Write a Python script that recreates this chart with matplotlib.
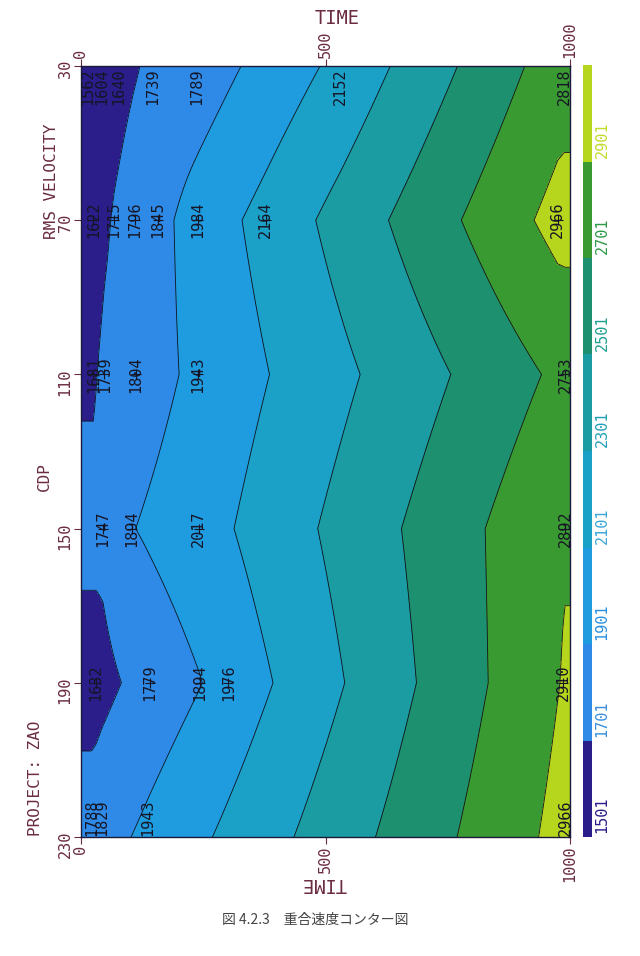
import numpy as np
import matplotlib
matplotlib.use("Agg")
import matplotlib.pyplot as plt
from matplotlib.transforms import blended_transform_factory

# ---------------- data ----------------
cdp = [30, 70, 110, 150, 190, 230]

pick_times = [
    [14, 43, 78, 147, 237, 530, 988],
    [25, 67, 110, 157, 239, 378, 975],
    [25, 48, 112, 239, 990],
    [45, 104, 241, 990],
    [31, 141, 243, 301, 986],
    [22, 43, 137, 990],
]
pick_vels = [
    [1562, 1604, 1640, 1739, 1789, 2152, 2818],
    [1622, 1715, 1796, 1845, 1984, 2164, 2966],
    [1681, 1739, 1804, 1943, 2753],
    [1747, 1894, 2017, 2892],
    [1632, 1779, 1894, 1976, 2910],
    [1788, 1829, 1943, 2966],
]

levels = [1501, 1701, 1901, 2101, 2301, 2501, 2701, 2901, 3101]
level_labels = ["1501", "1701", "1901", "2101", "2301", "2501", "2701", "2901"]
band_colors = ["#2b1d8a", "#2e8ae6", "#1f9be0", "#1ba1c8", "#1b9ca2",
               "#1d9070", "#3a9a32", "#b6d61e"]
label_colors = ["#2b1d8a", "#3a8fdc", "#2a8fe0", "#3aa6d6", "#22a0b8",
                "#1fa090", "#2f9a48", "#c4dc30"]

time_ticks = [0, 500, 1000]

# ---------------- figure ----------------
W, H = 640, 956
plt.rcParams["font.family"] = ["DejaVu Sans Mono"]
fig = plt.figure(figsize=(W / 100, H / 100), dpi=100)
fig.patch.set_facecolor("white")

def fx(px):
    return px / W

def fy(py):
    return 1 - py / H

maroon = "#6a2c40"

ax = fig.add_axes([fx(81), fy(837), 489 / W, 771 / H])

time_grid = np.linspace(0, 1000, 401)
V = np.array([np.interp(time_grid, t, v) for t, v in zip(pick_times, pick_vels)])

ax.contourf(time_grid, cdp, V, levels=levels, colors=band_colors)
ax.contour(time_grid, cdp, V, levels=levels[1:-1], colors="#101020",
           linewidths=0.6)

ax.set_xlim(0, 1000)
ax.set_ylim(230, 30)

# pick labels
for c, ts, vs in zip(cdp, pick_times, pick_vels):
    for t, v in zip(ts, vs):
        if c == cdp[0]:
            ha, yy = "right", c + 0.6
        elif c == cdp[-1]:
            ha, yy = "left", c - 0.3
        else:
            ha, yy = "center", c
        ax.text(t, yy, str(v), rotation=90, rotation_mode="anchor",
                ha=ha, va="center", fontsize=11, color="#151525")
    if c not in (cdp[0], cdp[-1]):
        ax.plot(ts, [c] * len(ts), "+", color="#151525", ms=7, mew=0.8)

ax.set_xticks(time_ticks)
ax.set_yticks(cdp)
ax.tick_params(axis="both", direction="out", length=5, width=0.8,
               colors=maroon, labelsize=11, labelrotation=90, pad=1)
ax.tick_params(axis="x", top=True, labeltop=True, bottom=True, labelbottom=True)
for s in ax.spines.values():
    s.set_color("#1a1a3a")
    s.set_linewidth(1.0)

# colour bar
cax = fig.add_axes([fx(583), fy(837), 9 / W, 772 / H])
cax.bar(0, np.diff(levels), bottom=levels[:-1], color=band_colors, width=1.0)
cax.set_xlim(-0.5, 0.5)
cax.set_ylim(levels[0], levels[-1])
cax.axis("off")
tr = blended_transform_factory(cax.transAxes, cax.transData)
for lv, lab, col in zip(levels[:-1], level_labels, label_colors):
    cax.text(2.1, lv + 8, lab, transform=tr, rotation=90,
             rotation_mode="anchor", ha="left", va="center",
             fontsize=11, color=col)

# axis titles
fig.text(fx(337), fy(19), "TIME", ha="center", va="center",
         fontsize=13.5, color=maroon)
fig.text(fx(324), fy(883), "TIME", ha="center", va="center", rotation=180,
         fontsize=13.5, color=maroon)
fig.text(fx(52), fy(181), "RMS VELOCITY", rotation=90, ha="center",
         va="center", fontsize=11.5, color=maroon)
fig.text(fx(44), fy(477), "CDP", rotation=90, ha="center", va="center",
         fontsize=11.5, color=maroon)
fig.text(fx(36), fy(778), "PROJECT: ZAO", rotation=90, ha="center",
         va="center", fontsize=11.5, color=maroon)

fig.text(fx(315), fy(920), "図 4.2.3\u3000重合速度コンター図",
         family=["Noto Sans CJK JP", "DejaVu Sans"], ha="center",
         va="center", fontsize=10, color="#444444")

fig.savefig("out.png", dpi=100)
